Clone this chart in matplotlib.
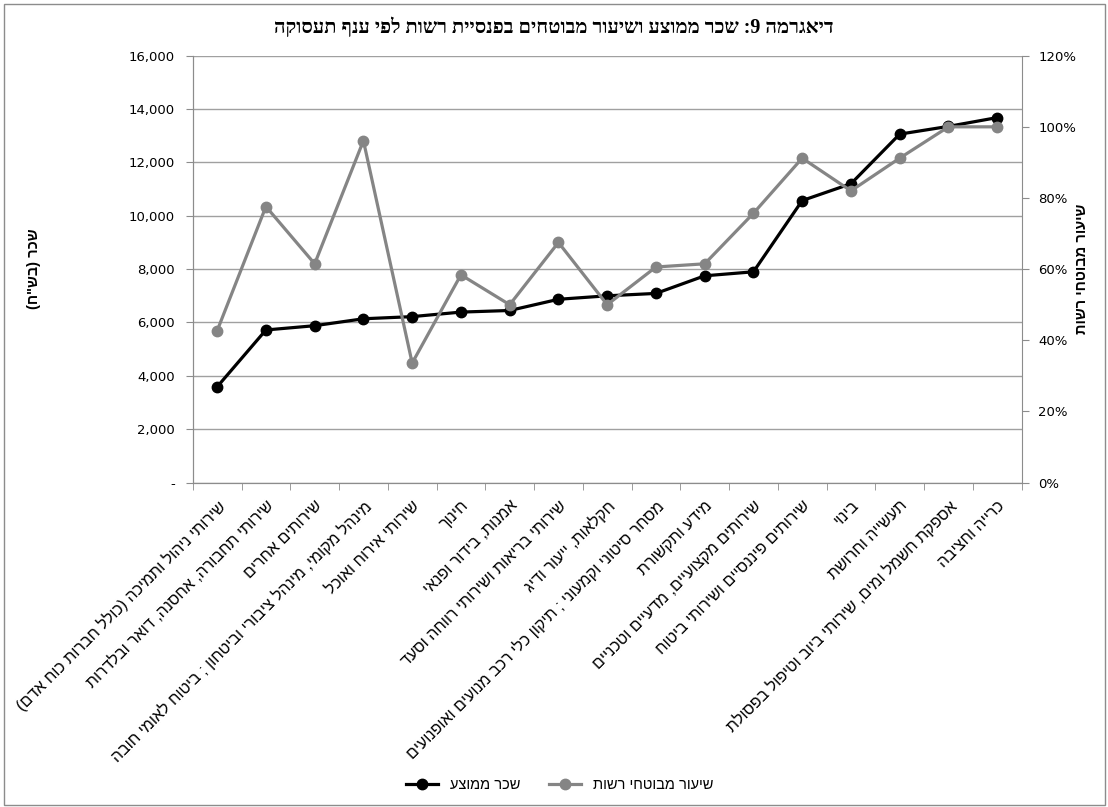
import matplotlib
matplotlib.use("Agg")
import matplotlib.pyplot as plt
from matplotlib.ticker import FuncFormatter, FixedLocator
from matplotlib.patches import Rectangle
import numpy as np

# branches, ordered by average wage (logical Hebrew order)
branches = [
    "שירותי ניהול ותמיכה (כולל חברות כוח אדם)",
    "שירותי תחבורה, אחסנה, דואר ובלדרות",
    "שירותים אחרים",
    "מינהל מקומי, מינהל ציבורי וביטחון ; ביטוח לאומי חובה",
    "שירותי אירוח ואוכל",
    "חינוך",
    "אמנות, בידור ופנאי",
    "שירותי בריאות ושירותי רווחה וסעד",
    "חקלאות, ייעור ודיג",
    "מסחר סיטוני וקמעוני ; תיקון כלי רכב מנועים ואופנועים",
    "מידע ותקשורת",
    "שירותים מקצועיים, מדעיים וטכניים",
    "שירותים פיננסיים ושירותי ביטוח",
    "בינוי",
    "תעשייה וחרושת",
    "אספקת חשמל ומים, שירותי ביוב וטיפול בפסולת",
    "כרייה וחציבה",
]

avg_wage = [3590, 5720, 5880, 6140, 6220, 6390, 6450, 6870, 7000,
            7090, 7750, 7900, 10570, 11200, 13060, 13350, 13680]

insured_rate = [0.427, 0.776, 0.615, 0.961, 0.336, 0.584, 0.500, 0.675, 0.500,
                0.606, 0.615, 0.757, 0.912, 0.820, 0.912, 1.000, 1.000]

title = "דיאגרמה 9: שכר ממוצע ושיעור מבוטחים בפנסיית רשות לפי ענף תעסוקה"
wage_label = "שכר ממוצע"
rate_label = "שיעור מבוטחי רשות"
left_axis_title = 'שכר (בש"ח)'
right_axis_title = "שיעור מבוטחי רשות"


def heb(s):
    # matplotlib has no bidi support: reverse to visual order, mirror brackets
    return s[::-1].translate(str.maketrans("()", ")("))


SANS = ["Liberation Sans", "DejaVu Sans"]
SERIF = ["Liberation Serif", "DejaVu Serif", "DejaVu Sans"]
AXIS_GRAY = "#8c8c8c"

fig = plt.figure(figsize=(11.08, 8.07), dpi=100)
ax = fig.add_axes([0.174, 0.402, 0.748, 0.529])
ax2 = ax.twinx()

x = np.arange(len(branches))

ax.plot(x, avg_wage, color="black", lw=2.3, marker="o", ms=7.5,
        label=heb(wage_label), zorder=3)
ax2.plot(x, insured_rate, color="#858585", lw=2.3, marker="o", ms=7.5,
         label=heb(rate_label), zorder=3)

ax.set_xlim(-0.5, len(branches) - 0.5)
ax.set_ylim(0, 16000)
ax2.set_ylim(0, 1.2)
ax.set_yticks(np.arange(0, 16001, 2000))
ax2.set_yticks(np.arange(0, 1.21, 0.2))
ax.yaxis.set_major_formatter(FuncFormatter(lambda v, p: "-" if v == 0 else f"{v:,.0f}"))
ax2.yaxis.set_major_formatter(FuncFormatter(lambda v, p: f"{v * 100:.0f}%"))

ax.grid(axis="y", color="#a0a0a0", lw=1)
ax.set_axisbelow(True)

# category labels at the centres, tick marks on the boundaries
ax.set_xticks(x)
ax.set_xticklabels([heb(b) for b in branches], rotation=45, ha="right",
                   rotation_mode="anchor", fontsize=11.5, family=SANS)
ax.xaxis.set_minor_locator(FixedLocator(np.arange(-0.5, len(branches), 1)))
ax.tick_params(axis="x", which="major", length=0, pad=11)
ax.tick_params(axis="x", which="minor", length=5, color=AXIS_GRAY)
ax.tick_params(axis="y", length=5, color=AXIS_GRAY, pad=8, labelsize=9.5)
ax2.tick_params(axis="y", length=5, color=AXIS_GRAY, pad=7, labelsize=9.5)

for a in (ax, ax2):
    a.spines["top"].set_visible(False)
    for side in ("left", "right", "bottom"):
        a.spines[side].set_color(AXIS_GRAY)
ax.spines["right"].set_visible(False)

ax.set_ylabel(heb(left_axis_title), family=SANS, fontsize=10.5,
              fontweight="bold", labelpad=0)
ax.yaxis.set_label_coords(-0.183, 0.5)
ax2.set_ylabel(heb(right_axis_title), family=SANS, fontsize=10.5,
               fontweight="bold", rotation=90)
ax2.yaxis.set_label_coords(1.064, 0.5)

fig.text(0.5, 0.965, heb(title), ha="center", va="center",
         fontsize=14.5, fontweight="bold", family=SERIF)

h1, l1 = ax.get_legend_handles_labels()
h2, l2 = ax2.get_legend_handles_labels()
fig.legend(h1 + h2, l1 + l2, loc="center", bbox_to_anchor=(0.505, 0.027),
           ncol=2, frameon=False, prop={"family": SANS, "size": 10.5},
           handlelength=2.2, columnspacing=2.0)

# thin frame around the whole chart
fig.patches.append(Rectangle((0.004, 0.002), 0.993, 0.993, transform=fig.transFigure,
                             fill=False, edgecolor="#8c8c8c", lw=1))

fig.savefig("out.png", dpi=100)
